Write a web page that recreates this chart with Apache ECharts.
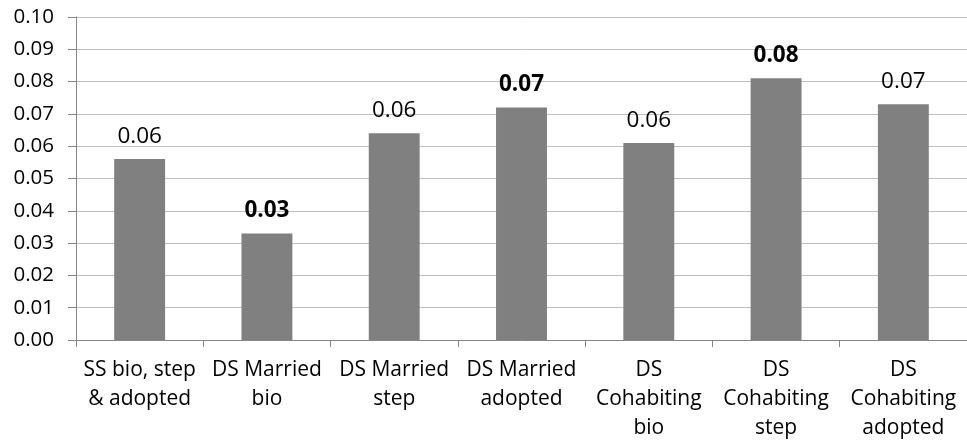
<!DOCTYPE html>
<html>
<head>
<meta charset="utf-8">
<script src="https://cdn.jsdelivr.net/npm/echarts@6/dist/echarts.min.js"></script>
<style>
  html, body { margin: 0; padding: 0; background: #fff; }
  #chart { width: 967px; height: 447px; }
</style>
</head>
<body>
<div id="chart"></div>
<script>
// Household types (line breaks as they wrap under each bar)
const categories = [
  'SS bio, step\n& adopted',
  'DS Married\nbio',
  'DS Married\nstep',
  'DS Married\nadopted',
  'DS\nCohabiting\nbio',
  'DS\nCohabiting\nstep',
  'DS\nCohabiting\nadopted'
];
const values = [0.056, 0.033, 0.064, 0.072, 0.061, 0.081, 0.073];
// Which value labels are set in bold
const boldLabels = [false, true, false, true, false, true, false];

const FONT = '"Open Sans", sans-serif';

const chart = echarts.init(document.getElementById('chart'), null, { renderer: 'canvas' });

chart.setOption({
  animation: false,
  backgroundColor: '#ffffff',
  grid: { left: 76, right: -4, top: 17, bottom: 107, containLabel: false },
  xAxis: {
    type: 'category',
    data: categories,
    boundaryGap: true,
    axisLine: { show: true, lineStyle: { color: '#868686', width: 1 } },
    axisTick: { show: true, length: 7, alignWithLabel: false, lineStyle: { color: '#868686' } },
    axisLabel: {
      interval: 0,
      color: '#000',
      fontFamily: FONT,
      fontSize: 21,
      lineHeight: 29,
      margin: 16
    },
    splitLine: { show: false }
  },
  yAxis: {
    type: 'value',
    min: 0,
    max: 0.1,
    interval: 0.01,
    axisLine: { show: true, lineStyle: { color: '#868686', width: 1 } },
    axisTick: { show: true, length: 8, inside: false, lineStyle: { color: '#868686' } },
    axisLabel: {
      color: '#000',
      fontFamily: FONT,
      fontSize: 20.5,
      margin: 22,
      formatter: v => v.toFixed(2)
    },
    splitLine: { show: true, lineStyle: { color: '#bfbfbf', width: 1 } }
  },
  series: [{
    type: 'bar',
    barWidth: '40%',
    data: values.map((v, i) => ({
      value: v,
      label: {
        fontWeight: boldLabels[i] ? 'bold' : 'normal'
      }
    })),
    itemStyle: { color: '#808080' },
    label: {
      show: true,
      position: 'top',
      distance: 11,
      color: '#000',
      fontFamily: FONT,
      fontSize: 22.5,
      formatter: p => p.value.toFixed(2)
    }
  }]
});
</script>
</body>
</html>
